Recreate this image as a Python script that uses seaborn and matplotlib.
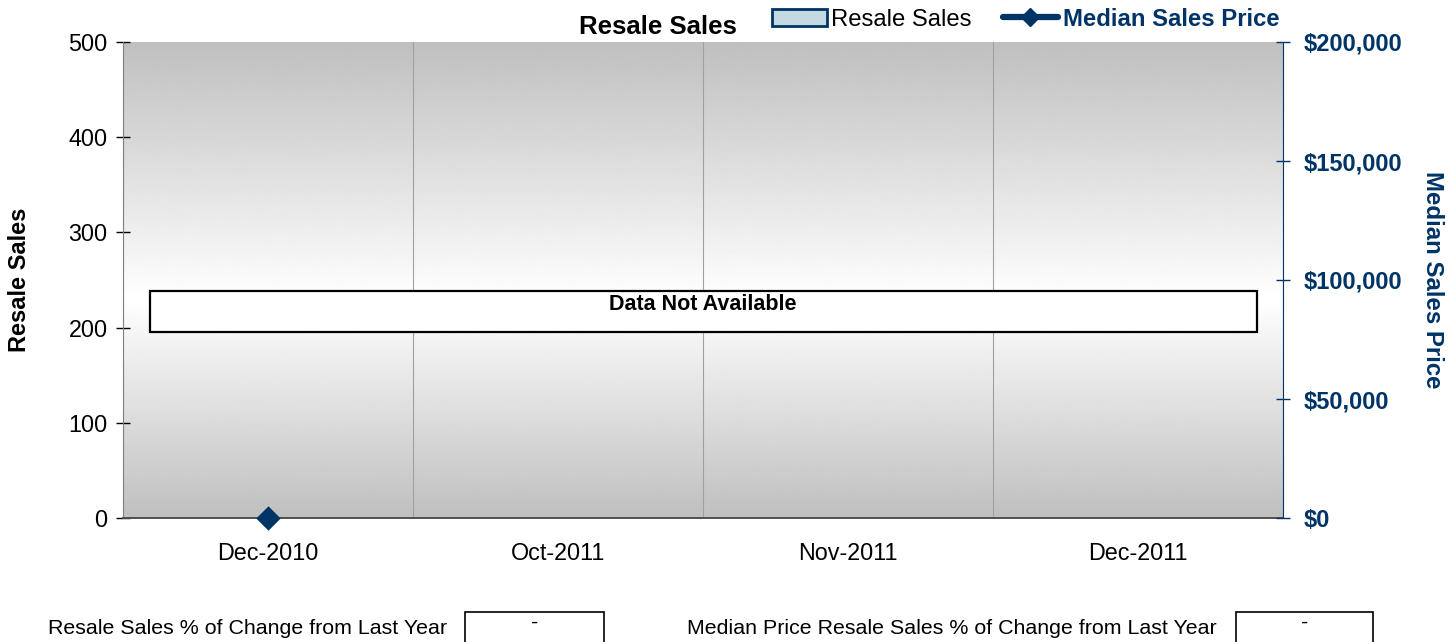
import numpy as np
import pandas as pd
import matplotlib
matplotlib.use('Agg')
import matplotlib.pyplot as plt
from matplotlib.patches import Rectangle, Patch
from matplotlib.lines import Line2D
import seaborn as sns

months = ['Dec-2010', 'Oct-2011', 'Nov-2011', 'Dec-2011']
resale_sales = [0, 0, 0, 0]
median_price = [0, np.nan, np.nan, np.nan]
sales_ticks = [0, 100, 200, 300, 400, 500]
price_ticks = [0, 50000, 100000, 150000, 200000]
price_labels = ['$0', '$50,000', '$100,000', '$150,000', '$200,000']

navy = '#003366'
bar_fill = '#c5d9e2'

sns.set_style('white')
plt.rcParams['font.family'] = ['Liberation Sans', 'DejaVu Sans']
plt.rcParams['text.color'] = 'black'
plt.rcParams['axes.labelcolor'] = 'black'
plt.rcParams['xtick.color'] = 'black'
plt.rcParams['ytick.color'] = 'black'

df = pd.DataFrame({'month': months, 'sales': resale_sales, 'price': median_price})

fig = plt.figure(figsize=(14.55, 6.42), dpi=100)
ax = fig.add_axes([123 / 1455, 1 - 518 / 642, 1160 / 1455, 476 / 642])

# gradient background: gray - white - gray
t = np.linspace(0, 1, 300)
mid = 0.54
shade = np.where(t < mid, 0.75 + 0.25 * t / mid, 1.0 - 0.25 * (t - mid) / (1 - mid))
ax.imshow(shade[:, None], cmap='gray', vmin=0, vmax=1, aspect='auto',
          extent=[0, 1, 0, 1], transform=ax.transAxes, zorder=0)

sns.barplot(data=df, x='month', y='sales', color=bar_fill, edgecolor=navy, linewidth=0,
            ax=ax, zorder=2)
ax.set_xlim(-0.5, 3.5)
ax.set_ylim(0, 500)
ax.set_yticks(sales_ticks)
ax.set_xticks(range(len(months)))
ax.set_xticklabels(months)
ax.set_xticks(np.arange(-0.5, 4, 1), minor=True)
ax.grid(which='minor', axis='x', color='#a0a0a0', lw=0.8, zorder=1)
ax.tick_params(axis='x', which='major', length=0, pad=17, labelsize=16.8)
ax.tick_params(axis='x', which='minor', length=10, direction='inout', color='black', width=1)
ax.tick_params(axis='y', length=10, direction='inout', color='black', width=1, labelsize=16.8, pad=6)
ax.set_xlabel('')
ax.set_ylabel('Resale Sales', fontsize=17, fontweight='bold', labelpad=27)
for s in ['top', 'right']:
    ax.spines[s].set_visible(False)
ax.spines['left'].set_color('#808080')
ax.spines['bottom'].set_color('#505050')
ax.spines['bottom'].set_linewidth(1.4)

# data not available box
ax.add_patch(Rectangle((0.0233, 0.391), 0.9543, 0.086, transform=ax.transAxes,
                       facecolor='white', edgecolor='black', lw=1.6, zorder=3))
ax.text(0.5, 0.448, 'Data Not Available', transform=ax.transAxes, ha='center', va='center',
        fontsize=15.5, fontweight='bold', zorder=4)

ax2 = ax.twinx()
sns.pointplot(data=df, x='month', y='price', color=navy, markers='D', markersize=10,
              linewidth=3, ax=ax2, zorder=5)
ax2.set_xlim(-0.5, 3.5)
ax2.set_ylim(0, 200000)
ax2.set_yticks(price_ticks)
ax2.set_yticklabels(price_labels)
ax2.set_ylabel('Median Sales Price', fontsize=17.3, fontweight='bold', color=navy,
               rotation=270, labelpad=30)
ax2.tick_params(axis='y', length=10, direction='inout', color=navy, width=1, labelsize=17,
                labelcolor=navy, pad=10)
for lbl in ax2.get_yticklabels():
    lbl.set_fontweight('bold')
for s in ['top', 'left', 'bottom']:
    ax2.spines[s].set_visible(False)
ax2.spines['right'].set_color(navy)
ax2.set_xlabel('')
for p in ax2.collections:
    p.set_clip_on(False)
for ln in ax2.lines:
    ln.set_clip_on(False)

fig.text(658 / 1455, 1 - 27 / 642, 'Resale Sales', ha='center', va='center',
         fontsize=18.5, fontweight='bold')

handles = [Patch(facecolor=bar_fill, edgecolor=navy, lw=2),
           Line2D([0], [0], color=navy, lw=4.5, marker='D', markersize=9)]
leg = fig.legend(handles, ['Resale Sales', 'Median Sales Price'], loc='center left',
                 bbox_to_anchor=(762 / 1455, 1 - 19 / 642), ncol=2, frameon=False,
                 fontsize=17.2, handlelength=2.3, handletextpad=0.2, columnspacing=1.3,
                 borderaxespad=0)
leg.get_texts()[1].set_color(navy)
leg.get_texts()[1].set_fontweight('bold')

# percent change boxes
fig.text(447 / 1455, 1 - 628 / 642, 'Resale Sales % of Change from Last Year',
         ha='right', va='center', fontsize=15.4)
fig.add_artist(Rectangle((465 / 1455, -0.02), 139 / 1455, 0.02 + 30 / 642,
                         transform=fig.transFigure, facecolor='white', edgecolor='black', lw=1.2))
fig.text(535 / 1455, 1 - 622 / 642, '-', ha='center', va='center', fontsize=15.4)
fig.text(1217 / 1455, 1 - 628 / 642, 'Median Price Resale Sales % of Change from Last Year',
         ha='right', va='center', fontsize=15.4)
fig.add_artist(Rectangle((1236 / 1455, -0.02), 137 / 1455, 0.02 + 30 / 642,
                         transform=fig.transFigure, facecolor='white', edgecolor='black', lw=1.2))
fig.text(1305 / 1455, 1 - 622 / 642, '-', ha='center', va='center', fontsize=15.4)

fig.savefig('out.png', dpi=100)
